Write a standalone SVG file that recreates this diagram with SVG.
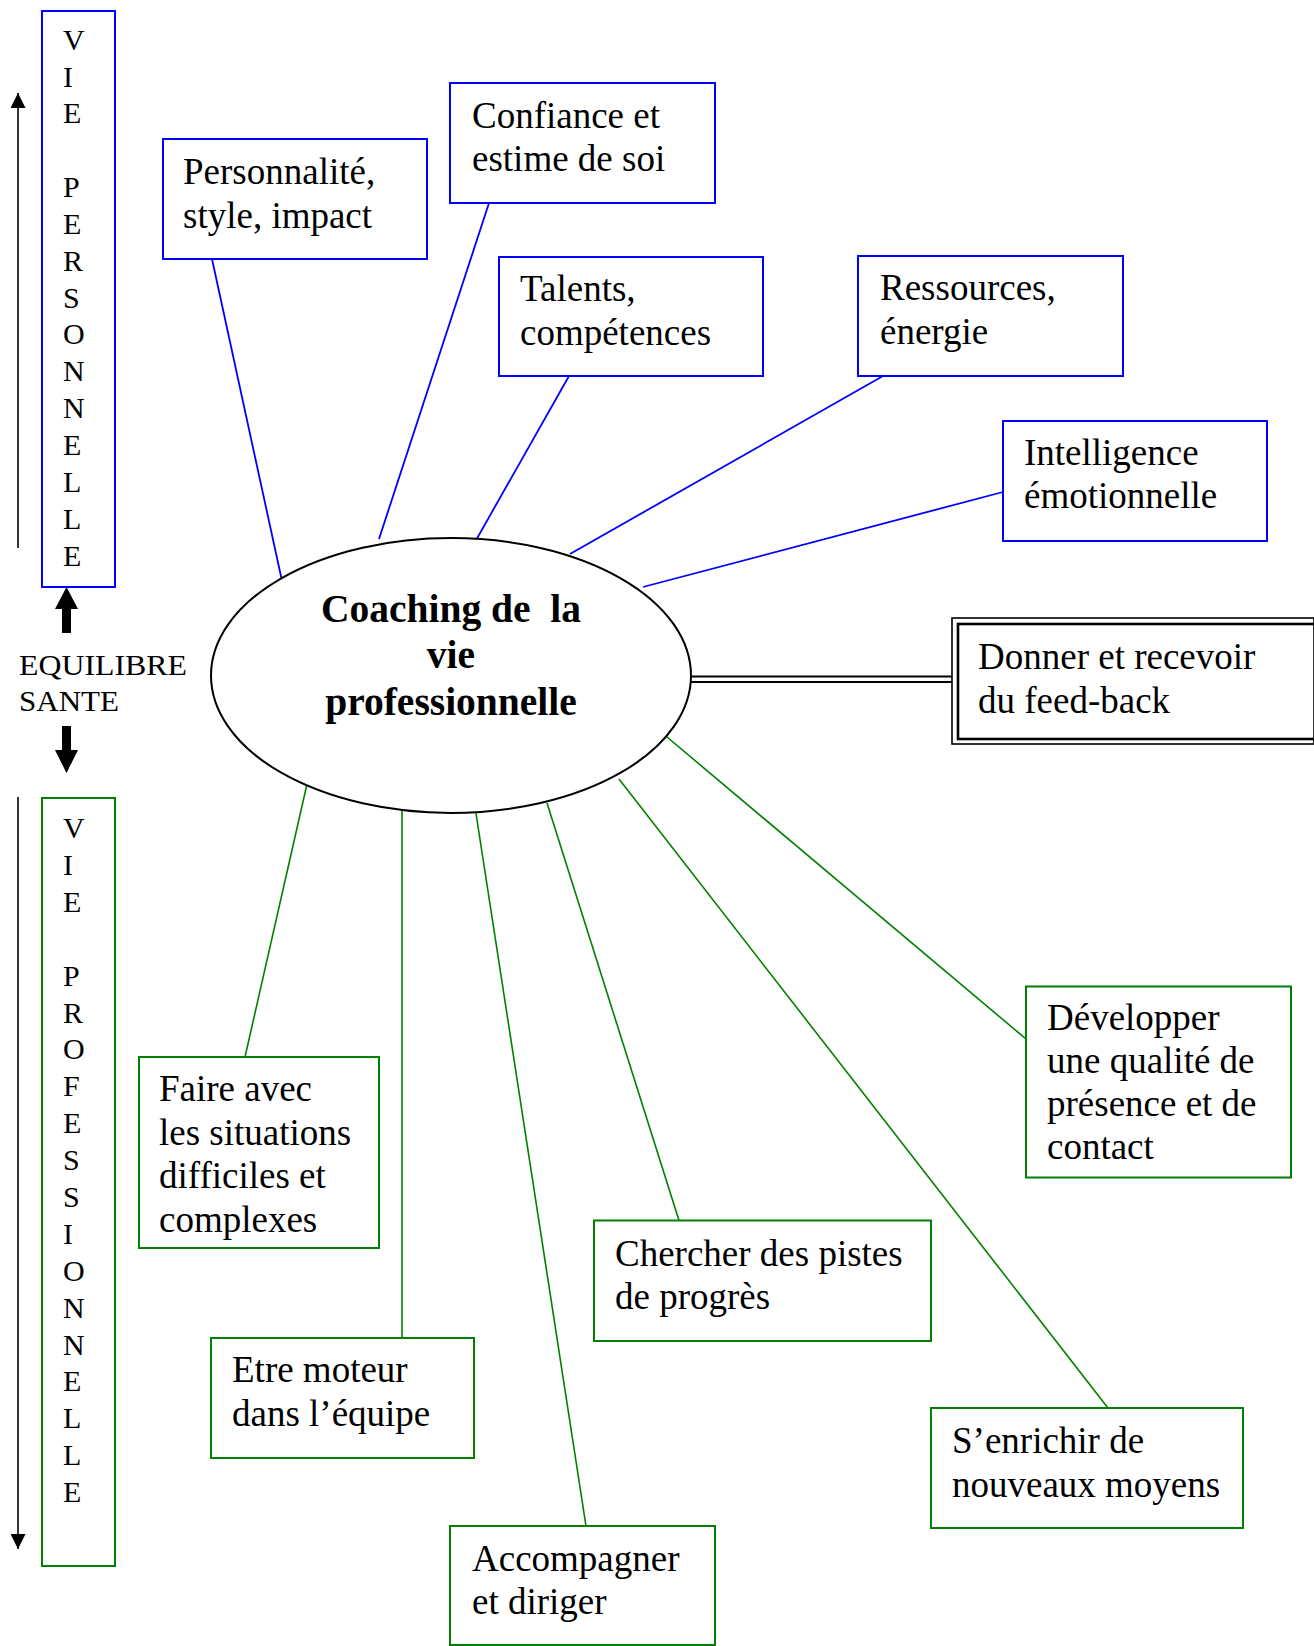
<svg xmlns="http://www.w3.org/2000/svg" width="1314" height="1646" viewBox="0 0 1314 1646">
<style>
.bb{fill:#fff;stroke:#0000ff;stroke-width:2}
.gb{fill:#fff;stroke:#008000;stroke-width:2}
.bl{stroke:#0000ff;stroke-width:1.8;fill:none}
.gl{stroke:#008000;stroke-width:1.6;fill:none}
.t{font-family:"Liberation Serif","Times New Roman",serif;font-size:37px;fill:#000}
.v{font-family:"Liberation Serif","Times New Roman",serif;font-size:30px;fill:#000}
.eq{font-family:"Liberation Serif","Times New Roman",serif;font-size:29px;fill:#000}
.title{font-family:"Liberation Serif","Times New Roman",serif;font-size:39.5px;font-weight:bold;fill:#000;text-anchor:middle;white-space:pre}
</style>
<defs>
<marker id="ah" viewBox="0 0 10 10" refX="10" refY="5" markerWidth="15" markerHeight="15" markerUnits="userSpaceOnUse" orient="auto">
<path d="M0,0 L10,5 L0,10 z" fill="#000"/>
</marker>
</defs>
<rect width="1314" height="1646" fill="#fff"/>

<g id="connectors">
<line class="bl" x1="212" y1="259" x2="282" y2="581"/>
<line class="bl" x1="489" y1="203" x2="379" y2="539"/>
<line class="bl" x1="569" y1="376" x2="475" y2="542"/>
<line class="bl" x1="883" y1="376" x2="570" y2="554"/>
<line class="bl" x1="1003" y1="492" x2="643" y2="587"/>
<line x1="691" y1="676.5" x2="952" y2="676.5" stroke="#000" stroke-width="1.8"/>
<line x1="691" y1="682" x2="952" y2="682" stroke="#000" stroke-width="1.8"/>
<line class="gl" x1="307" y1="784" x2="245" y2="1057"/>
<line class="gl" x1="402" y1="807" x2="402" y2="1338"/>
<line class="gl" x1="475" y1="807" x2="586" y2="1526"/>
<line class="gl" x1="547" y1="803" x2="679" y2="1220.5"/>
<line class="gl" x1="619" y1="779" x2="1108" y2="1408"/>
<line class="gl" x1="667" y1="737" x2="1026" y2="1039"/>
<line x1="18" y1="548" x2="18" y2="93" stroke="#000" stroke-width="1.6" marker-end="url(#ah)"/>
<line x1="18" y1="797" x2="18" y2="1549" stroke="#000" stroke-width="1.6" marker-end="url(#ah)"/>
<path d="M62,633 L62,609 L55,609 L66.5,587 L78,609 L71,609 L71,633 Z" fill="#000"/>
<path d="M62,726 L62,750 L55,750 L66.5,773 L78,750 L71,750 L71,726 Z" fill="#000"/>
</g>

<g id="vie-personnelle">
<rect class="bb" x="42" y="11" width="73" height="576"/>
<text class="v">
<tspan x="63" y="50">V</tspan><tspan x="63" y="87">I</tspan><tspan x="63" y="123">E</tspan>
<tspan x="63" y="197">P</tspan><tspan x="63" y="234">E</tspan><tspan x="63" y="271">R</tspan><tspan x="63" y="308">S</tspan><tspan x="63" y="344">O</tspan><tspan x="63" y="381">N</tspan><tspan x="63" y="418">N</tspan><tspan x="63" y="455">E</tspan><tspan x="63" y="492">L</tspan><tspan x="63" y="529">L</tspan><tspan x="63" y="566">E</tspan>
</text>
</g>

<g id="equilibre">
<text class="eq" x="19" y="675" textLength="168" lengthAdjust="spacingAndGlyphs">EQUILIBRE</text>
<text class="eq" x="19" y="711" textLength="100" lengthAdjust="spacingAndGlyphs">SANTE</text>
</g>

<g id="vie-professionnelle">
<rect class="gb" x="42" y="798" width="73" height="768"/>
<text class="v">
<tspan x="63" y="838">V</tspan><tspan x="63" y="875">I</tspan><tspan x="63" y="912">E</tspan>
<tspan x="63" y="986">P</tspan><tspan x="63" y="1023">R</tspan><tspan x="63" y="1059">O</tspan><tspan x="63" y="1096">F</tspan><tspan x="63" y="1133">E</tspan><tspan x="63" y="1170">S</tspan><tspan x="63" y="1207">S</tspan><tspan x="63" y="1244">I</tspan><tspan x="63" y="1281">O</tspan><tspan x="63" y="1318">N</tspan><tspan x="63" y="1355">N</tspan><tspan x="63" y="1391">E</tspan><tspan x="63" y="1428">L</tspan><tspan x="63" y="1465">L</tspan><tspan x="63" y="1502">E</tspan>
</text>
</g>

<g id="center">
<ellipse cx="451" cy="675.5" rx="240" ry="137.5" fill="#fff" stroke="#000" stroke-width="2"/>
<text class="title" x="451" y="622" xml:space="preserve">Coaching de  la</text>
<text class="title" x="451" y="668">vie</text>
<text class="title" x="451" y="715">professionnelle</text>
</g>

<g id="personnalite">
<rect class="bb" x="163" y="139" width="264" height="120"/>
<text class="t"><tspan x="183" y="184">Personnalité,</tspan><tspan x="183" y="228">style, impact</tspan></text>
</g>
<g id="confiance">
<rect class="bb" x="450" y="83" width="265" height="120"/>
<text class="t"><tspan x="472" y="128">Confiance et</tspan><tspan x="472" y="171">estime de soi</tspan></text>
</g>
<g id="talents">
<rect class="bb" x="499" y="257" width="264" height="119"/>
<text class="t"><tspan x="520" y="301">Talents,</tspan><tspan x="520" y="345">compétences</tspan></text>
</g>
<g id="ressources">
<rect class="bb" x="858" y="256" width="265" height="120"/>
<text class="t"><tspan x="880" y="300">Ressources,</tspan><tspan x="880" y="344">énergie</tspan></text>
</g>
<g id="intelligence">
<rect class="bb" x="1003" y="421" width="264" height="120"/>
<text class="t"><tspan x="1024" y="465">Intelligence</tspan><tspan x="1024" y="508">émotionnelle</tspan></text>
</g>
<g id="feedback">
<rect x="952" y="618" width="362" height="126" fill="#fff" stroke="#000" stroke-width="1.6"/>
<rect x="958" y="624" width="362" height="115" fill="none" stroke="#000" stroke-width="2.6"/>
<text class="t"><tspan x="978" y="669">Donner et recevoir</tspan><tspan x="978" y="713">du feed-back</tspan></text>
</g>

<g id="faire">
<rect class="gb" x="139" y="1057" width="240" height="191"/>
<text class="t"><tspan x="159" y="1101">Faire avec</tspan><tspan x="159" y="1145">les situations</tspan><tspan x="159" y="1188">difficiles et</tspan><tspan x="159" y="1232">complexes</tspan></text>
</g>
<g id="etre">
<rect class="gb" x="211" y="1338" width="263" height="120"/>
<text class="t"><tspan x="232" y="1382">Etre moteur</tspan><tspan x="232" y="1426">dans l’équipe</tspan></text>
</g>
<g id="accompagner">
<rect class="gb" x="450" y="1526" width="265" height="119"/>
<text class="t"><tspan x="472" y="1571">Accompagner</tspan><tspan x="472" y="1614">et diriger</tspan></text>
</g>
<g id="chercher">
<rect class="gb" x="594" y="1220.5" width="337" height="120.5"/>
<text class="t"><tspan x="615" y="1266">Chercher des pistes</tspan><tspan x="615" y="1309">de progrès</tspan></text>
</g>
<g id="enrichir">
<rect class="gb" x="931" y="1408" width="312" height="120"/>
<text class="t"><tspan x="952" y="1453">S’enrichir de</tspan><tspan x="952" y="1497">nouveaux moyens</tspan></text>
</g>
<g id="developper">
<rect class="gb" x="1026" y="986.5" width="265" height="191"/>
<text class="t"><tspan x="1047" y="1030">Développer</tspan><tspan x="1047" y="1073">une qualité de</tspan><tspan x="1047" y="1116">présence et de</tspan><tspan x="1047" y="1159">contact</tspan></text>
</g>
</svg>
